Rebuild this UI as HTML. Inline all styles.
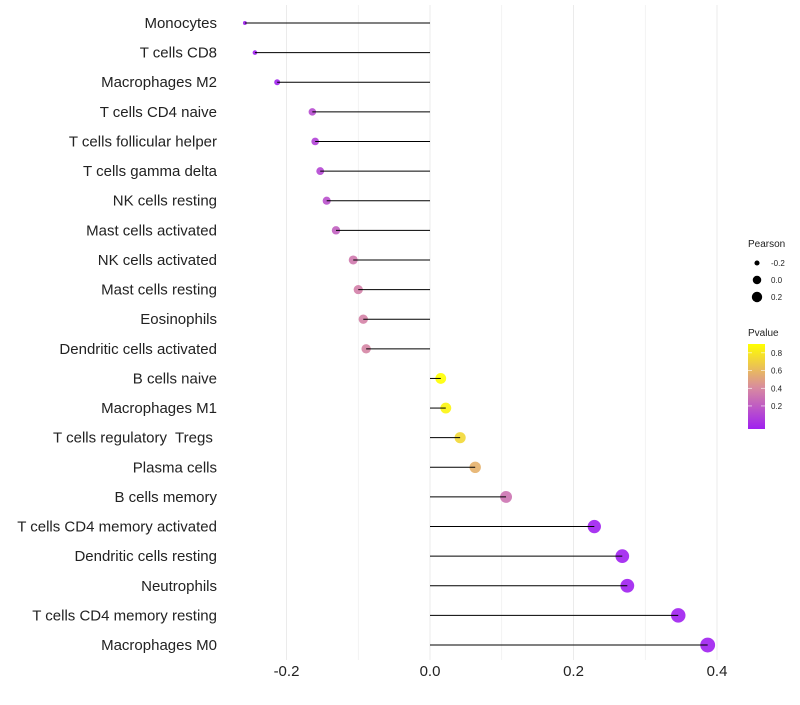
<!DOCTYPE html>
<html><head><meta charset="utf-8"><style>
body{margin:0;background:#fff;font-family:"Liberation Sans",sans-serif}
text{white-space:pre}
</style></head><body>
<svg id="chart" width="800" height="700" xmlns="http://www.w3.org/2000/svg" font-family="Liberation Sans, sans-serif"></svg>
<script>
const categories=["Monocytes","T cells CD8","Macrophages M2","T cells CD4 naive","T cells follicular helper","T cells gamma delta","NK cells resting","Mast cells activated","NK cells activated","Mast cells resting","Eosinophils","Dendritic cells activated","B cells naive","Macrophages M1","T cells regulatory  Tregs ","Plasma cells","B cells memory","T cells CD4 memory activated","Dendritic cells resting","Neutrophils","T cells CD4 memory resting","Macrophages M0"];
const pearson=[-0.258,-0.244,-0.213,-0.164,-0.160,-0.153,-0.144,-0.131,-0.107,-0.100,-0.093,-0.089,0.015,0.022,0.042,0.063,0.106,0.229,0.268,0.275,0.346,0.387];
const pvalue=[0.01,0.03,0.04,0.2,0.16,0.18,0.22,0.28,0.38,0.41,0.42,0.43,0.9,0.86,0.75,0.6,0.36,0.03,0.03,0.02,0.02,0.02];
const xTicks=[-0.2,0,0.2,0.4];
const xTickLabels=["-0.2","0.0","0.2","0.4"];
const sizeLegend=[-0.2,0,0.2];
const pTicks=[0.2,0.4,0.6,0.8];
const NS="http://www.w3.org/2000/svg";
const svg=document.getElementById('chart');
const X=v=>430+v*717.5;
const Y=i=>23+i*29.62;
const R=v=>1.15*Math.sqrt(Math.max(2.5, v<-0.1 ? 16+83*(v+0.1) : 16+53*(v+0.1)));
function mix(a,b,t){return a.map((c,i)=>Math.round(c+(b[i]-c)*t));}
function col(p){const s=[[0.03,[160,32,240]],[0.45,[216,138,160]],[0.9,[255,255,0]]];
 p=Math.max(0.03,Math.min(0.9,p));let k=p<=0.45?0:1;const t=(p-s[k][0])/(s[k+1][0]-s[k][0]);
 const c=mix(s[k][1],s[k+1][1],t);return `rgb(${c.join(',')})`;}
function el(tag,attrs,parent){const e=document.createElementNS(NS,tag);for(const k in attrs)e.setAttribute(k,attrs[k]);(parent||svg).appendChild(e);return e;}
const PY=x=>421-(x-0.03)/(0.9-0.03)*(421-344);
for(let v=-0.2;v<=0.41;v+=0.1){const g=el('line',{x1:X(v),x2:X(v),y1:5,y2:660,stroke:'#ebebeb','stroke-width':Math.abs(Math.round(v*10))%2===0?1:0.6});
}
xTicks.forEach((v,i)=>{const t=el('text',{x:X(v),y:676,'text-anchor':'middle','font-size':15,fill:'#222'});t.textContent=xTickLabels[i];
});
categories.forEach((c,i)=>{
 const t=el('text',{x:217,y:Y(i)+5,'text-anchor':'end','font-size':15,fill:'#222'});t.textContent=c;
 
 const d=el('circle',{cx:X(pearson[i]),cy:Y(i),r:R(pearson[i]),fill:col(pvalue[i]),opacity:0.9});
 
 const l=el('line',{x1:X(0),x2:X(pearson[i]),y1:Y(i),y2:Y(i),stroke:'#000','stroke-width':1});
 
});
let t=el('text',{x:748,y:247,'font-size':10,fill:'#222'});t.textContent='Pearson';

sizeLegend.forEach((v,i)=>{const y=263+i*17;
 const c=el('circle',{cx:757,cy:y,r:R(v)*0.8,fill:'#000'});
 const tt=el('text',{x:771,y:y+3,'font-size':8,fill:'#222'});tt.textContent=['-0.2','0.0','0.2'][i];
 });
t=el('text',{x:748,y:336,'font-size':10,fill:'#222'});t.textContent='Pvalue';

const defs=el('defs',{});const lg=el('linearGradient',{id:'pg',x1:0,y1:1,x2:0,y2:0},defs);
[0.03,0.25,0.45,0.7,0.9].forEach(p=>el('stop',{offset:(p-0.03)/0.87,'stop-color':col(p)},lg));
const bar=el('rect',{x:748,y:344,width:17,height:85,fill:'url(#pg)'});
pTicks.forEach(p=>{const y=PY(p);el('line',{x1:748,x2:752,y1:y,y2:y,stroke:'#fff','stroke-width':0.6});el('line',{x1:761,x2:765,y1:y,y2:y,stroke:'#fff','stroke-width':0.6});
 const tt=el('text',{x:771,y:y+3,'font-size':8,fill:'#222'});tt.textContent=p.toFixed(1);
 });
</script>
</body></html>
